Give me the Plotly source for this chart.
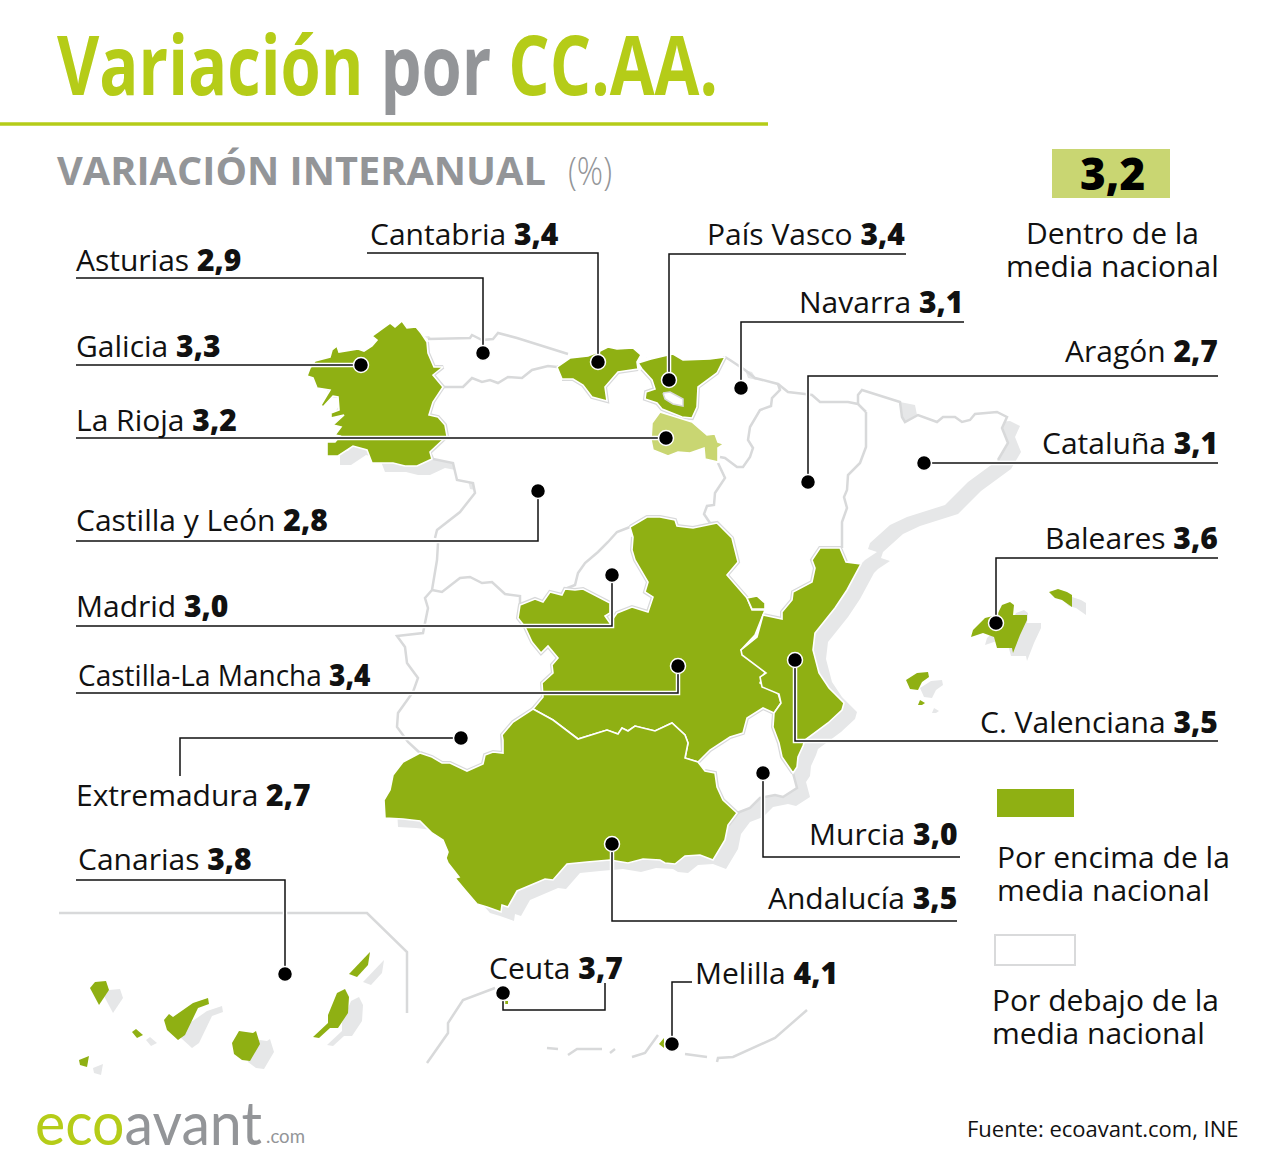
import plotly.graph_objects as go

regions = ["Asturias", "Cantabria", "País Vasco", "Navarra", "Aragón", "Cataluña", "Galicia", "La Rioja",
           "Castilla y León", "Madrid", "Castilla-La Mancha", "Extremadura", "C. Valenciana", "Baleares",
           "Murcia", "Andalucía", "Canarias", "Ceuta", "Melilla"]
values = [2.9, 3.4, 3.4, 3.1, 2.7, 3.1, 3.3, 3.2, 2.8, 3.0, 3.4, 2.7, 3.5, 3.6, 3.0, 3.5, 3.8, 3.7, 4.1]
national_avg = 3.2

GREEN = "#8fb013"
MID = "#c9d672"
LIME = "#b5cc18"
GREY = "#939598"
BORDER = "#d8d9da"
SHADOW = "#e6e7e8"
INK = "#111111"
FONT = "Open Sans"

# region outlines in page pixels (there is no basemap offline)
outlines = {
    "Galicia": [[(315,361),(330,357),(332,350),(337,346),(339,352),(358,349),(364,351),(372,346),(377,340),(372,336),(390,323),(395,327),(402,321),(407,328),(416,327),(421,333),(427,342),(428,353),(434,367),(443,367),(433,375),(443,387),(433,402),(429,415),(438,417),(445,425),(447,436),(440,443),(430,452),(432,459),(417,466),(405,466),(393,463),(382,463),(372,463),(367,450),(353,446),(338,456),(327,456),(327,442),(335,442),(340,436),(335,435),(341,427),(333,425),(344,415),(331,418),(331,413),(339,410),(338,397),(333,396),(323,407),(321,405),(330,390),(317,388),(313,378),(307,376),(310,368)]],
    "Cantabria": [[(557,367),(570,358),(588,356),(598,352),(608,347),(617,349),(633,348),(641,355),(637,362),(638,369),(618,372),(605,387),(607,401),(592,397),(583,385),(573,379),(562,379)]],
    "País Vasco": [[(638,363),(651,359),(668,355),(673,354),(683,360),(710,359),(725,357),(717,373),(698,387),(697,407),(692,418),(682,417),(662,409),(657,403),(645,399),(646,392),(655,389),(652,380),(642,369)]],
    "La Rioja": [[(660,412),(692,422),(707,435),(715,434),(718,442),(724,444),(718,448),(718,462),(705,459),(704,448),(690,453),(678,452),(668,456),(653,450),(651,440),(652,423)]],
    "Castilla-La Mancha": [[(630,527),(647,517),(660,517),(675,520),(677,526),(693,528),(717,523),(732,538),(738,562),(727,575),(747,598),(752,610),(765,610),(755,635),(741,650),(765,672),(760,683),(778,693),(781,703),(774,713),(763,708),(747,718),(743,733),(730,737),(710,750),(698,762),(685,758),(688,743),(685,735),(672,723),(655,731),(635,726),(628,731),(622,728),(618,734),(607,730),(578,739),(553,720),(533,709),(543,697),(542,683),(553,673),(552,665),(558,658),(548,646),(541,653),(532,642),(525,627),(518,618),(520,605),(535,599),(543,602),(550,592),(562,595),(565,589),(575,590),(583,589),(610,603),(610,613),(605,616),(610,623),(617,613),(632,607),(648,612),(653,597),(645,592),(648,582),(635,560),(632,550),(633,537)]],
    "C. Valenciana": [[(812,560),(820,548),(840,548),(846,562),(861,564),(847,590),(835,608),(815,633),(813,650),(819,673),(829,688),(844,703),(842,710),(828,723),(805,740),(803,746),(798,757),(797,767),(793,773),(782,757),(779,743),(773,727),(774,713),(781,703),(779,694),(762,687),(760,677),(766,673),(742,655),(741,650),(757,637),(763,615),(782,619),(782,612),(792,600),(793,592),(812,582),(815,568)],
                      [(747,598),(757,596),(765,603),(765,609),(752,609)]],
    "Andalucía": [[(420,753),(432,757),(442,763),(450,763),(467,771),(483,764),(485,755),(493,752),(503,753),(503,740),(502,735),(513,722),(533,709),(553,720),(578,739),(607,730),(618,734),(622,728),(628,731),(635,726),(655,731),(672,723),(685,735),(688,743),(685,758),(698,762),(705,771),(715,773),(717,787),(723,800),(737,813),(728,825),(725,840),(713,860),(700,855),(685,856),(675,864),(665,863),(660,860),(643,859),(628,863),(610,860),(587,862),(567,864),(553,880),(545,879),(517,891),(508,907),(502,905),(501,912),(487,907),(477,904),(465,890),(455,878),(459,877),(448,863),(446,858),(448,852),(443,840),(432,833),(420,821),(403,819),(385,818),(384,800),(390,790),(393,775),(403,762)]],
    "Baleares": [[(971,637),(973,630),(985,618),(997,615),(1002,605),(1010,602),(1014,605),(1013,615),(1027,615),(1027,620),(1020,635),(1013,653),(1012,648),(1003,648),(997,648),(994,637),(983,633)],
                 [(1049,592),(1058,589),(1067,592),(1072,595),(1072,607),(1062,600),(1055,598)],
                 [(906,680),(917,673),(928,672),(929,677),(922,682),(918,690),(910,689)],
                 [(918,705),(920,700),(925,703),(922,705)]],
    "Canarias": [[(349,974),(370,952),(368,965),(357,977)],
                 [(313,1037),(328,1023),(328,1015),(337,993),(345,989),(349,997),(348,1013),(338,1028),(330,1028),(319,1038)],
                 [(232,1043),(239,1031),(253,1033),(256,1031),(260,1044),(250,1061),(242,1060),(234,1054)],
                 [(164,1020),(169,1014),(173,1017),(193,1003),(208,998),(209,1004),(198,1008),(185,1035),(178,1040),(167,1030)],
                 [(132,1032),(136,1029),(143,1035),(137,1038)],
                 [(90,988),(95,982),(106,981),(109,990),(99,1005)],
                 [(79,1060),(89,1056),(87,1067),(80,1065)]],
    "Ceuta": [[(505,1001),(508,1001),(508,1004),(505,1004)]],
    "Melilla": [[(664,1038),(659,1044),(664,1048)]],
}
treviño = [(663,393),(670,392),(683,399),(683,406),(673,404),(665,399)]

mainland = [(315,361),(330,357),(332,350),(337,346),(339,352),(358,349),(364,351),(372,346),(377,340),(372,336),(390,323),(395,327),(402,321),(407,328),(416,327),(421,333),(428,339),(470,338),(472,335),(482,340),(493,339),(498,333),(517,338),(568,354),(588,356),(598,352),(608,347),(617,349),(633,348),(641,355),(651,359),(668,355),(673,354),(683,360),(710,359),(725,357),(730,360),(745,370),(755,378),(778,384),(788,392),(812,395),(820,402),(848,402),(858,404),(858,395),(862,390),(885,397),(900,402),(902,417),(905,422),(918,415),(937,422),(943,417),(955,417),(962,422),(970,420),(975,414),(997,412),(1007,417),(1002,428),(1008,443),(998,460),(968,482),(945,505),(907,517),(890,525),(870,543),(868,549),(877,552),(865,560),(861,564),(847,590),(835,608),(815,633),(813,650),(819,673),(829,688),(844,703),(842,710),(828,723),(805,740),(803,746),(798,757),(797,767),(793,773),(797,788),(783,797),(775,795),(760,798),(750,808),(737,813),(728,825),(725,840),(713,860),(700,855),(685,856),(675,864),(665,863),(660,860),(643,859),(628,863),(610,860),(587,862),(567,864),(553,880),(545,879),(517,891),(508,907),(502,905),(501,912),(487,907),(477,904),(465,890),(455,878),(459,877),(448,863),(446,858),(448,852),(443,840),(432,833),(420,821),(403,819),(385,818),(384,800),(390,790),(393,775),(403,762),(420,753),(408,742),(403,735),(397,727),(398,713),(413,692),(418,678),(407,663),(405,647),(397,636),(423,633),(428,608),(425,598),(432,590),(437,560),(438,543),(435,538),(437,530),(460,512),(475,493),(473,483),(457,480),(453,463),(433,459),(432,459),(417,466),(405,466),(393,463),(382,463),(372,463),(367,450),(353,446),(338,456),(327,456),(327,442),(335,442),(340,436),(335,435),(341,427),(333,425),(344,415),(331,418),(331,413),(339,410),(338,397),(333,396),(323,407),(321,405),(330,390),(317,388),(313,378),(307,376),(310,368)]

borders = [
    [(428,339),(470,338),(472,335),(482,340),(493,339),(498,333),(517,338),(568,354)],
    [(443,387),(463,387),(472,378),(482,382),(490,380),(498,383),(508,377),(522,378),(532,370),(548,366),(557,367)],
    [(430,452),(433,459),(453,463),(457,480),(473,483),(475,493),(460,512),(437,530),(435,538)],
    [(438,543),(437,560),(432,590),(425,598),(428,608),(423,633),(397,636),(405,647),(407,663),(418,678),(413,692),(398,713),(397,727),(403,735),(408,742),(420,753)],
    [(432,590),(442,592),(460,578),(470,577),(482,583),(492,582),(505,594),(520,596),(520,605)],
    [(725,357),(730,360),(745,370),(755,378),(778,384),(788,392),(805,394),(812,395),(820,402),(848,402),(858,404),(866,412)],
    [(778,384),(780,390),(772,398),(771,406),(760,410),(750,427),(748,440),(753,448),(750,457),(743,467),(737,467),(725,458),(720,457)],
    [(718,463),(725,478),(715,493),(714,505),(707,506),(704,514),(710,523),(717,523)],
    [(866,412),(866,447),(860,463),(848,475),(847,490),(844,497),(847,508),(842,522),(842,548)],
    [(858,404),(858,395),(862,390),(885,397),(900,402),(902,417),(905,422),(918,415),(937,422),(943,417),(955,417),(962,422),(970,420),(975,414),(997,412),(1007,417),(1002,428),(1008,443),(998,460)],
    [(630,527),(617,532),(608,542),(598,552),(585,563),(578,573),(575,585),(565,589)],
    [(793,773),(797,788),(783,797),(775,795),(760,798),(750,808),(737,813)],
]
andorra = [(900,402),(915,405),(917,415),(905,422)]
hondarribia = [(745,370),(752,372),(757,380),(748,378)]
canarias_frame = [(59,913),(367,913),(407,952),(407,1013)]
africa_coast = [
    [(427,1063),(448,1033),(448,1023),(463,1000),(495,988)],
    [(547,1048),(558,1049)],
    [(568,1055),(577,1049),(602,1049)],
    [(610,1053),(615,1049)],
    [(632,1057),(645,1053),(658,1035)],
    [(685,1054),(707,1057)],
    [(717,1062),(718,1058),(733,1057),(775,1038),(807,1010)],
]

# callouts: line route (ending on the dot) and text spot for each region
leaders = {
    "Asturias": [(76,278),(483,278),(483,353)],
    "Cantabria": [(367,253),(598,253),(598,362)],
    "País Vasco": [(906,254),(669,254),(669,380)],
    "Navarra": [(964,322),(741,322),(741,388)],
    "Aragón": [(1218,376),(808,376),(808,482)],
    "Cataluña": [(1218,463),(924,463)],
    "Galicia": [(76,365),(361,365)],
    "La Rioja": [(76,438),(666,438)],
    "Castilla y León": [(76,541),(538,541),(538,491)],
    "Madrid": [(76,626),(612,626),(612,575)],
    "Castilla-La Mancha": [(76,693),(678,693),(678,666)],
    "Extremadura": [(180,776),(180,738),(461,738)],
    "C. Valenciana": [(1218,741),(795,741),(795,660)],
    "Baleares": [(1218,558),(996,558),(996,623)],
    "Murcia": [(960,857),(763,857),(763,773)],
    "Andalucía": [(957,921),(612,921),(612,844)],
    "Canarias": [(76,880),(285,880),(285,974)],
    "Ceuta": [(605,983),(605,1010),(503,1010),(503,993)],
    "Melilla": [(692,982),(672,982),(672,1044)],
}
label_spots = {
    "Asturias": (76,259,"left"), "Cantabria": (370,233,"left"), "País Vasco": (905,233,"right"),
    "Navarra": (963,301,"right"), "Aragón": (1218,350,"right"), "Cataluña": (1218,442,"right"),
    "Galicia": (76,345,"left"), "La Rioja": (76,419,"left"), "Castilla y León": (76,519,"left"),
    "Madrid": (76,605,"left"), "Castilla-La Mancha": (78,674,"left"), "Extremadura": (76,794,"left"),
    "C. Valenciana": (1218,721,"right"), "Baleares": (1218,537,"right"), "Murcia": (958,833,"right"),
    "Andalucía": (957,897,"right"), "Canarias": (78,858,"left"), "Ceuta": (489,967,"left"),
    "Melilla": (695,972,"left"),
}


def comma(v):
    return f"{v:.1f}".replace(".", ",")


def region_fill(v):
    if v > national_avg:
        return GREEN
    if v == national_avg:
        return MID
    return "#ffffff"


def poly(pts, fill, line=None, width=0, dx=0, dy=0):
    fig.add_trace(go.Scatter(
        x=[p[0] + dx for p in pts] + [pts[0][0] + dx], y=[p[1] + dy for p in pts] + [pts[0][1] + dy],
        mode="lines", fill="toself", fillcolor=fill,
        line=dict(color=line or fill, width=width), hoverinfo="skip"))


def path(pts, color, width):
    fig.add_trace(go.Scatter(x=[p[0] for p in pts], y=[p[1] for p in pts], mode="lines",
                             line=dict(color=color, width=width), hoverinfo="skip"))


def text(x, y, s, size=30, anchor="left", color=INK, family=FONT):
    fig.add_annotation(x=x, y=y, text=s, showarrow=False, xanchor=anchor, yanchor="middle",
                       borderpad=0, borderwidth=0,
                       font=dict(family=family, size=size, color=color))


def heavy(s):
    return f'<span style="font-weight:800">{s}</span>'


fig = go.Figure()

# shore shadow, then the white mainland over it
poly(mainland, SHADOW, dx=13, dy=9)
for name in ["Baleares", "Canarias"]:
    for part in outlines[name]:
        poly(part, SHADOW, dx=14, dy=8)
poly(mainland, "#ffffff")
poly(andorra, SHADOW)
poly(hondarribia, SHADOW)

for line in borders + africa_coast + [canarias_frame]:
    path(line, BORDER, 2.5)

# grey edge where a coloured region meets a white one
for pts in [outlines["Galicia"][0][16:29], outlines["Andalucía"][0][:14], outlines["Andalucía"][0][26:32],
            outlines["C. Valenciana"][0][-7:] + outlines["C. Valenciana"][0][:4],
            outlines["C. Valenciana"][0][18:23], outlines["Cantabria"][0][:1] + outlines["Cantabria"][0][9:],
            outlines["País Vasco"][0][6:], outlines["Castilla-La Mancha"][0][:13],
            outlines["Castilla-La Mancha"][0][19:26], outlines["Castilla-La Mancha"][0][38:]]:
    path(pts, BORDER, 4)

for name, v in zip(regions, values):
    for part in outlines.get(name, []):
        edge = "#ffffff" if name not in ["Baleares", "Canarias", "Melilla", "Ceuta"] else None
        poly(part, region_fill(v), line=edge, width=1.6 if edge else 0)
poly(treviño, "#ffffff", line=BORDER, width=1.5)

# callout lines with a white halo, then the dots
for name in regions:
    path(leaders[name], "#ffffff", 4.5)
for name in regions:
    path(leaders[name], INK, 1.5)
dots = [leaders[n][-1] for n in regions]
fig.add_trace(go.Scatter(x=[d[0] for d in dots], y=[d[1] for d in dots], mode="markers",
                         marker=dict(size=15, color="#000000", line=dict(color="#ffffff", width=1.5)),
                         hoverinfo="skip"))

for name, v in zip(regions, values):
    x, y, anchor = label_spots[name]
    text(x, y, f"{name} {heavy(comma(v))}", anchor=anchor)

# header
text(57, 62, f'<b>Variación <span style="color:{GREY}">por</span> CC.AA.</b>', size=83, color=LIME)
text(57, 169, "<b>VARIACIÓN INTERANUAL</b>", size=40, color=GREY)
text(568, 170, "(%)", size=38, color=GREY)
fig.layout.annotations[-1].font.weight = 300
fig.add_shape(type="line", x0=0, x1=768, y0=124, y1=124, line=dict(color=LIME, width=3.5))

# legend column
fig.add_shape(type="rect", x0=1052, x1=1170, y0=149, y1=198, fillcolor=MID, line_width=0)
text(1112, 173, heavy(comma(national_avg)), size=44, anchor="center", color="#000000")
text(1112, 232, "Dentro de la", anchor="center")
text(1112, 265, "media nacional", anchor="center")
fig.add_shape(type="rect", x0=997, x1=1074, y0=789, y1=817, fillcolor=GREEN, line_width=0)
text(997, 856, "Por encima de la")
text(997, 889, "media nacional")
fig.add_shape(type="rect", x0=995, x1=1075, y0=935, y1=965, fillcolor="#ffffff", line=dict(color="#d9dadb", width=2))
text(992, 999, "Por debajo de la")
text(992, 1032, "media nacional")

# footer
text(35, 1122, f'<span style="color:{LIME}">eco</span>avant', size=60, color=GREY, family="Lato")
text(266, 1135, ".com", size=20, color=GREY, family="Lato")
text(1239, 1128, "Fuente: ecoavant.com, INE", size=22, anchor="right")

fig.update_layout(
    width=1280, height=1165, margin=dict(l=0, r=0, t=0, b=0),
    paper_bgcolor="#ffffff", plot_bgcolor="#ffffff", showlegend=False,
    xaxis=dict(range=[0, 1280], visible=False, fixedrange=True),
    yaxis=dict(range=[1165, 0], visible=False, fixedrange=True),
)

# no condensed font is installed, so squeeze these texts to their measured widths
squeeze = """
document.body.style.margin = '0';
var widths = {'Variación': 661, '(%)': 44, 'ecoavant': 227, '.com': 39, 'Castilla-La Mancha': 293, 'VARIACIÓN': 489};
document.querySelectorAll('.annotation-text').forEach(function (t) {
  Object.keys(widths).forEach(function (k) {
    if (t.textContent.indexOf(k) === 0) {
      t.style.transformBox = 'fill-box';
      t.style.transformOrigin = '0 50%';
      t.style.transform = 'scaleX(' + widths[k] / t.getBBox().width + ')';
    }
  });
});
"""
fig.write_html("out.html", post_script=squeeze, config={"displayModeBar": False})
